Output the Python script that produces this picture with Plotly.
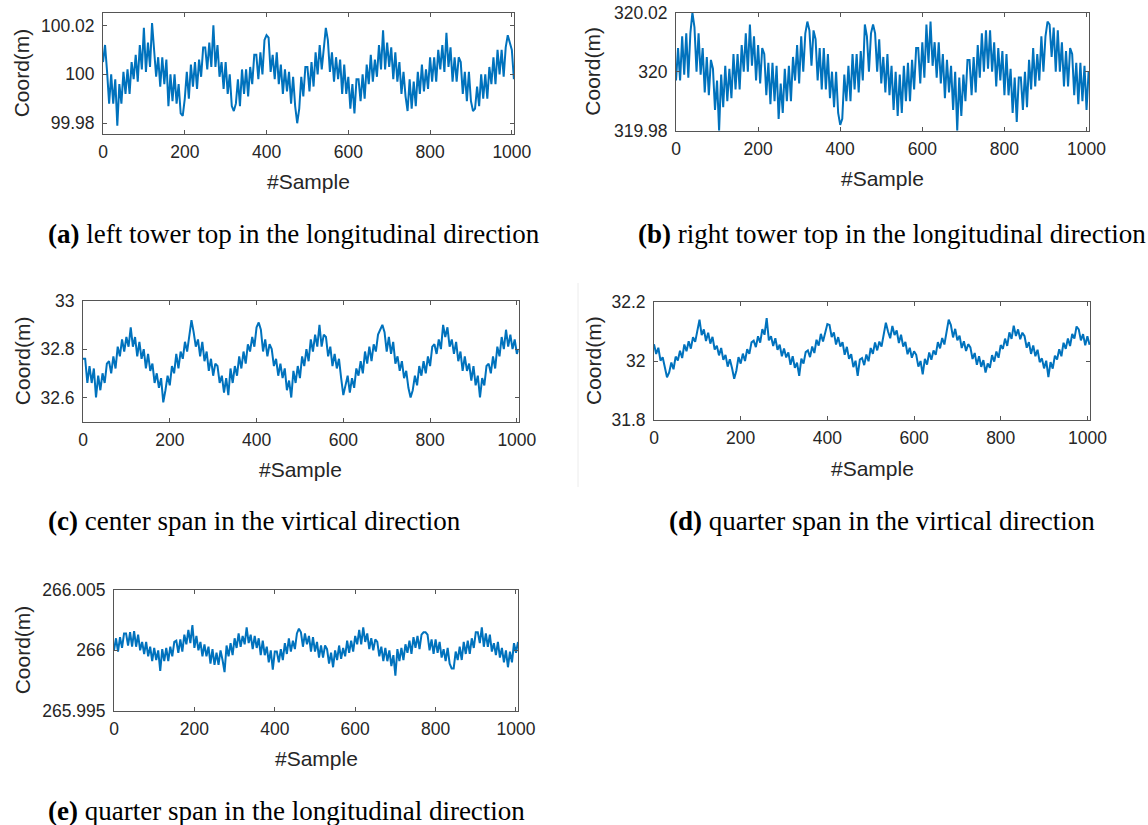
import plotly.graph_objects as go

# ---------------- data (every 5th sample) ----------------
sample_step = 5

coord_a = [
 100.005, 100.012, 100.001, 99.988, 100.000, 99.988, 99.998, 99.979, 99.996, 99.988,
 100.001, 99.992, 100.002, 99.992, 100.005, 99.998, 100.008, 99.997, 100.012, 100.002,
 100.019, 100.001, 100.013, 100.003, 100.021, 100.011, 99.999, 100.007, 99.995, 100.007,
 99.996, 100.006, 99.987, 100.000, 99.989, 100.000, 99.988, 99.996, 99.984, 99.983,
 99.990, 100.001, 99.990, 100.004, 99.995, 100.005, 99.994, 100.006, 99.999, 100.011,
 100.011, 100.002, 100.013, 100.003, 100.020, 100.003, 100.012, 99.999, 100.005, 99.994,
 100.005, 99.992, 100.000, 99.987, 99.985, 99.988, 99.998, 99.987, 100.002, 99.992,
 100.002, 99.991, 100.003, 99.996, 100.008, 100.008, 99.998, 100.009, 100.000, 100.014,
 100.016, 100.015, 100.001, 100.008, 99.998, 100.009, 99.996, 100.004, 99.992, 100.002,
 99.993, 100.001, 99.988, 99.999, 99.987, 99.980, 99.986, 99.999, 99.991, 100.003,
 100.003, 99.993, 100.005, 99.995, 100.009, 100.000, 100.012, 100.002, 100.011, 100.019,
 100.014, 100.001, 100.009, 99.997, 100.007, 99.998, 100.006, 99.992, 100.004, 99.992,
 99.999, 99.986, 99.996, 99.984, 99.998, 99.998, 99.989, 100.000, 99.990, 100.004,
 99.996, 100.008, 99.997, 100.006, 99.999, 100.012, 100.002, 100.018, 100.002, 100.013,
 100.003, 100.011, 99.998, 100.009, 99.997, 100.005, 99.992, 100.001, 99.991, 99.985,
 99.998, 99.986, 99.997, 99.987, 100.001, 99.992, 100.004, 99.993, 100.002, 99.994,
 100.007, 99.997, 100.007, 99.997, 100.010, 100.002, 100.012, 100.001, 100.017, 100.003,
 100.011, 99.997, 100.007, 99.997, 100.007, 100.005, 99.992, 100.001, 99.989, 100.001,
 99.989, 99.985, 99.986, 99.995, 99.987, 100.000, 99.990, 100.000, 99.990, 100.003,
 99.996, 100.007, 99.996, 100.010, 100.000, 100.010, 99.999, 100.011, 100.016, 100.013,
 100.010, 99.998,
]

coord_b = [
 319.997, 320.008, 319.997, 320.012, 319.999, 320.013, 319.998, 320.013, 320.020, 320.015,
 320.000, 320.013, 319.999, 320.008, 319.993, 320.005, 319.992, 320.004, 320.001, 319.987,
 319.997, 319.980, 319.999, 319.988, 320.002, 319.990, 320.001, 319.991, 320.006, 319.994,
 320.006, 319.994, 320.009, 320.000, 320.013, 320.000, 320.016, 320.002, 320.012, 319.997,
 320.009, 319.996, 320.008, 320.006, 319.992, 320.003, 319.989, 320.003, 319.990, 320.002,
 319.984, 319.996, 319.986, 320.001, 319.990, 320.002, 319.990, 320.005, 319.997, 320.009,
 319.996, 320.012, 320.000, 320.013, 320.017, 320.014, 320.002, 320.014, 320.011, 319.997,
 320.008, 319.994, 320.008, 319.994, 320.006, 319.991, 320.000, 319.988, 320.000, 319.986,
 319.982, 319.984, 319.999, 319.990, 320.002, 319.990, 320.006, 319.994, 320.006, 319.993,
 320.007, 319.997, 320.016, 320.012, 320.000, 320.013, 320.016, 320.013, 320.000, 320.011,
 319.996, 320.005, 319.993, 320.006, 319.992, 320.002, 319.987, 320.000, 319.985, 319.999,
 319.986, 320.002, 319.990, 320.003, 319.990, 320.004, 319.994, 320.008, 320.008, 319.996,
 320.010, 319.998, 320.016, 320.003, 320.017, 320.002, 320.010, 319.998, 320.010, 319.996,
 320.006, 319.991, 320.004, 319.993, 320.002, 319.987, 320.000, 319.980, 319.998, 319.985,
 319.999, 319.990, 320.004, 320.004, 319.992, 320.005, 319.993, 320.009, 319.998, 320.013,
 320.000, 320.014, 320.001, 320.014, 320.000, 320.010, 319.995, 320.008, 319.997, 320.007,
 319.992, 320.006, 319.992, 320.001, 319.986, 319.998, 319.983, 319.998, 319.998, 319.987,
 320.000, 319.988, 320.004, 319.994, 320.008, 319.995, 320.006, 319.997, 320.012, 320.000,
 320.012, 320.017, 320.016, 320.005, 320.015, 320.000, 320.014, 320.000, 320.010, 319.995,
 320.007, 319.995, 320.008, 320.006, 319.992, 320.003, 319.989, 320.003, 319.990, 320.002,
 319.987, 320.000,
]

coord_c = [
 32.76, 32.76, 32.66, 32.73, 32.66, 32.72, 32.60, 32.69, 32.63, 32.70,
 32.66, 32.74, 32.75, 32.70, 32.77, 32.72, 32.81, 32.77, 32.84, 32.79,
 32.85, 32.81, 32.89, 32.81, 32.85, 32.77, 32.83, 32.76, 32.80, 32.72,
 32.78, 32.71, 32.74, 32.66, 32.70, 32.64, 32.68, 32.58, 32.63, 32.69,
 32.65, 32.73, 32.70, 32.78, 32.72, 32.79, 32.76, 32.83, 32.79, 32.85,
 32.92, 32.87, 32.81, 32.84, 32.77, 32.83, 32.75, 32.79, 32.71, 32.76,
 32.69, 32.74, 32.73, 32.66, 32.69, 32.62, 32.68, 32.61, 32.72, 32.66,
 32.73, 32.69, 32.77, 32.72, 32.79, 32.74, 32.82, 32.79, 32.85, 32.81,
 32.89, 32.91, 32.88, 32.79, 32.84, 32.77, 32.82, 32.80, 32.73, 32.76,
 32.69, 32.74, 32.68, 32.72, 32.63, 32.67, 32.60, 32.71, 32.66, 32.73,
 32.68, 32.77, 32.73, 32.80, 32.75, 32.84, 32.79, 32.86, 32.81, 32.90,
 32.81, 32.86, 32.85, 32.77, 32.81, 32.73, 32.78, 32.72, 32.76, 32.68,
 32.61, 32.65, 32.69, 32.62, 32.68, 32.64, 32.72, 32.69, 32.75, 32.70,
 32.79, 32.74, 32.81, 32.75, 32.82, 32.79, 32.86, 32.88, 32.90, 32.87,
 32.79, 32.85, 32.78, 32.83, 32.74, 32.77, 32.71, 32.75, 32.68, 32.71,
 32.64, 32.60, 32.63, 32.69, 32.65, 32.73, 32.69, 32.75, 32.70, 32.77,
 32.73, 32.81, 32.82, 32.78, 32.84, 32.80, 32.90, 32.85, 32.89, 32.81,
 32.84, 32.78, 32.83, 32.75, 32.79, 32.71, 32.77, 32.71, 32.74, 32.67,
 32.73, 32.65, 32.69, 32.60, 32.68, 32.65, 32.73, 32.74, 32.70, 32.77,
 32.72, 32.81, 32.77, 32.85, 32.80, 32.88, 32.81, 32.86, 32.80, 32.84,
 32.78, 32.80,
]

coord_d = [
 32.057, 32.024, 32.045, 32.001, 32.013, 31.978, 31.945, 31.961, 31.995, 31.972,
 32.015, 32.002, 32.035, 32.010, 32.056, 32.033, 32.067, 32.042, 32.081, 32.065,
 32.105, 32.140, 32.088, 32.107, 32.068, 32.096, 32.059, 32.082, 32.039, 32.052,
 32.019, 32.044, 32.004, 32.021, 31.981, 32.006, 31.976, 31.940, 31.967, 32.013,
 31.991, 32.025, 32.000, 32.040, 32.024, 32.063, 32.069, 32.047, 32.084, 32.062,
 32.108, 32.089, 32.145, 32.070, 32.084, 32.051, 32.077, 32.038, 32.055, 32.016,
 32.042, 32.012, 32.029, 31.987, 32.016, 31.977, 31.994, 31.950, 32.008, 31.991,
 32.030, 32.036, 32.013, 32.049, 32.027, 32.072, 32.052, 32.092, 32.066, 32.096,
 32.125, 32.122, 32.081, 32.097, 32.056, 32.081, 32.049, 32.064, 32.021, 32.048,
 32.007, 32.023, 31.979, 32.001, 31.950, 32.005, 32.010, 31.986, 32.022, 31.999,
 32.044, 32.024, 32.063, 32.036, 32.066, 32.049, 32.091, 32.130, 32.100, 32.077,
 32.119, 32.088, 32.104, 32.061, 32.089, 32.049, 32.065, 32.023, 32.045, 32.011,
 32.033, 32.021, 31.981, 32.000, 31.955, 32.007, 31.988, 32.029, 32.004, 32.036,
 32.021, 32.064, 32.043, 32.078, 32.056, 32.100, 32.140, 32.122, 32.080, 32.109,
 32.070, 32.086, 32.044, 32.067, 32.034, 32.057, 32.046, 32.007, 32.027, 31.987,
 32.016, 31.980, 32.003, 31.961, 31.992, 31.977, 32.020, 31.998, 32.032, 32.011,
 32.054, 32.041, 32.076, 32.051, 32.097, 32.075, 32.120, 32.085, 32.107, 32.074,
 32.096, 32.084, 32.045, 32.064, 32.024, 32.053, 32.016, 32.038, 31.996, 32.009,
 31.975, 32.001, 31.945, 31.996, 31.974, 32.018, 32.005, 32.040, 32.016, 32.062,
 32.041, 32.076, 32.051, 32.092, 32.076, 32.117, 32.107, 32.070, 32.091, 32.053,
 32.084, 32.055,
]

coord_e = [
 266.0000, 266.0010, 265.9999, 266.0011, 266.0002, 266.0014, 266.0014, 266.0004, 266.0015, 266.0003,
 266.0016, 266.0003, 266.0013, 266.0000, 266.0007, 265.9997, 266.0007, 265.9995, 266.0003, 265.9991,
 266.0002, 265.9992, 266.0000, 265.9983, 266.0001, 265.9991, 266.0002, 265.9991, 266.0003, 265.9995,
 266.0007, 266.0008, 265.9998, 266.0009, 265.9999, 266.0013, 266.0005, 266.0017, 266.0006, 266.0021,
 266.0002, 266.0012, 266.0000, 266.0007, 265.9995, 266.0005, 265.9995, 266.0003, 265.9989, 266.0001,
 265.9988, 265.9998, 265.9988, 266.0000, 265.9992, 265.9982, 266.0004, 265.9995, 266.0006, 265.9996,
 266.0010, 266.0002, 266.0014, 266.0003, 266.0012, 266.0005, 266.0019, 266.0006, 266.0013, 266.0001,
 266.0012, 266.0002, 266.0010, 265.9996, 266.0008, 265.9996, 266.0003, 265.9990, 266.0000, 265.9984,
 265.9999, 265.9999, 265.9990, 266.0001, 265.9992, 266.0006, 265.9997, 266.0010, 265.9999, 266.0008,
 266.0001, 266.0014, 266.0018, 266.0015, 266.0003, 266.0014, 266.0005, 266.0012, 265.9999, 266.0011,
 265.9999, 266.0007, 265.9994, 266.0004, 265.9994, 266.0004, 266.0001, 265.9989, 265.9998, 265.9986,
 266.0000, 265.9992, 266.0004, 265.9993, 266.0002, 265.9995, 266.0008, 265.9998, 266.0008, 265.9999,
 266.0012, 266.0005, 266.0017, 266.0005, 266.0019, 266.0007, 266.0014, 266.0001, 266.0010, 266.0000,
 266.0009, 266.0007, 265.9995, 266.0003, 265.9991, 266.0002, 265.9991, 266.0000, 265.9987, 265.9996,
 265.9979, 266.0001, 265.9991, 266.0002, 265.9992, 266.0005, 265.9998, 266.0008, 265.9997, 266.0011,
 266.0002, 266.0012, 266.0001, 266.0013, 266.0015, 266.0015, 266.0013, 266.0000, 266.0009, 265.9997,
 266.0009, 265.9998, 266.0007, 265.9994, 266.0001, 265.9991, 266.0002, 265.9989, 265.9985, 265.9985,
 265.9999, 265.9992, 266.0003, 265.9992, 266.0007, 265.9997, 266.0008, 265.9997, 266.0010, 266.0002,
 266.0015, 266.0015, 266.0006, 266.0019, 266.0003, 266.0014, 266.0003, 266.0013, 265.9999, 266.0006,
 265.9996, 266.0007, 265.9994, 266.0002, 265.9990, 266.0000, 265.9986, 265.9999, 265.9990, 266.0006,
 265.9998, 266.0007,
]

x_ticks = [0, 200, 400, 600, 800, 1000]
y_ticks_a = [99.98, 100, 100.02]
y_ticks_b = [319.98, 320, 320.02]
y_ticks_c = [32.6, 32.8, 33]
y_ticks_d = [31.8, 32, 32.2]
y_ticks_e = [265.995, 266, 266.005]
y_tick_text_a = ["99.98", "100", "100.02"]
y_tick_text_b = ["319.98", "320", "320.02"]
y_tick_text_c = ["32.6", "32.8", "33"]
y_tick_text_d = ["31.8", "32", "32.2"]
y_tick_text_e = ["265.995", "266", "266.005"]

captions = [
    ("(a)", "left tower top in the longitudinal direction"),
    ("(b)", "right tower top in the longitudinal direction"),
    ("(c)", "center span in the virtical direction"),
    ("(d)", "quarter span in the virtical direction"),
    ("(e)", "quarter span in the longitudinal direction"),
]

# ---------------- layout geometry (pixels) ----------------
W, H = 1148, 825
LINE_BLUE = "#0072BD"
AX_COL = "#555555"
TXT_COL = "#262626"
SANS = "Liberation Sans, Arial, sans-serif"
SERIF = "Liberation Serif, Times New Roman, serif"


def fx(p):
    return p / W


def fy(p):
    return 1 - p / H


panels = [
    dict(vals=coord_a, box=(103, 514.3, 12.7, 134.0), yr=(99.9756, 100.0252), xmax=1006,
         yt=y_ticks_a, ytt=y_tick_text_a, ylab_x=21, cap=(46, 234)),
    dict(vals=coord_b, box=(676, 1089, 12.7, 130.7), yr=(319.98, 320.02), xmax=1006,
         yt=y_ticks_b, ytt=y_tick_text_b, ylab_x=593, cap=(636, 234)),
    dict(vals=coord_c, box=(83, 518.6, 300.7, 421.7), yr=(32.5, 33.0), xmax=1004,
         yt=y_ticks_c, ytt=y_tick_text_c, ylab_x=22, cap=(46, 521)),
    dict(vals=coord_d, box=(654, 1090, 302, 420), yr=(31.8, 32.2), xmax=1006,
         yt=y_ticks_d, ytt=y_tick_text_d, ylab_x=594, cap=(667, 521)),
    dict(vals=coord_e, box=(114, 518, 590, 710.7), yr=(265.995, 266.005), xmax=1005,
         yt=y_ticks_e, ytt=y_tick_text_e, ylab_x=22, cap=(46, 811)),
]

fig = go.Figure()
layout = dict(
    width=W, height=H,
    margin=dict(l=0, r=0, t=0, b=0, pad=0, autoexpand=False),
    paper_bgcolor="white", plot_bgcolor="white",
    showlegend=False,
)
annotations = []

for i, p in enumerate(panels):
    n = i + 1
    xa = "x" if n == 1 else f"x{n}"
    ya = "y" if n == 1 else f"y{n}"
    left, right, top, bottom = p["box"]
    xs = [k * sample_step for k in range(len(p["vals"]))]
    fig.add_trace(go.Scatter(
        x=xs, y=p["vals"], mode="lines",
        line=dict(color=LINE_BLUE, width=2.0),
        xaxis=xa, yaxis=ya, hoverinfo="skip",
    ))
    common = dict(
        showline=True, linecolor=AX_COL, linewidth=1, mirror="ticks",
        ticks="inside", ticklen=4, tickwidth=1, tickcolor=AX_COL,
        showgrid=False, zeroline=False, automargin=False,
        tickfont=dict(family=SANS, size=17.5, color=TXT_COL),
    )
    layout["xaxis" if n == 1 else f"xaxis{n}"] = dict(
        domain=[fx(left), fx(right)], anchor=ya, range=[0, p["xmax"]],
        tickvals=x_ticks, ticktext=[str(v) for v in x_ticks],
        ticklabelstandoff=2, **common,
    )
    layout["yaxis" if n == 1 else f"yaxis{n}"] = dict(
        domain=[fy(bottom), fy(top)], anchor=xa, range=list(p["yr"]),
        tickvals=p["yt"], ticktext=p["ytt"], ticklabelstandoff=4, **common,
    )
    annotations.append(dict(
        x=fx(p["ylab_x"]), y=fy((top + bottom) / 2), xref="paper", yref="paper",
        text="Coord(m)", showarrow=False, textangle=-90,
        xanchor="center", yanchor="middle",
        font=dict(family=SANS, size=21, color=TXT_COL),
    ))
    annotations.append(dict(
        x=fx((left + right) / 2), y=fy(bottom + 48), xref="paper", yref="paper",
        text="#Sample", showarrow=False, xanchor="center", yanchor="middle",
        font=dict(family=SANS, size=21, color=TXT_COL),
    ))
    tag, txt = captions[i]
    annotations.append(dict(
        x=fx(p["cap"][0]), y=fy(p["cap"][1]), xref="paper", yref="paper",
        text=f"<b>{tag}</b> {txt}", showarrow=False,
        xanchor="left", yanchor="middle",
        font=dict(family=SERIF, size=27, color="black"),
    ))

layout["annotations"] = annotations
layout["shapes"] = [dict(
    type="line", xref="paper", yref="paper",
    x0=fx(578), x1=fx(578), y0=fy(283), y1=fy(487),
    line=dict(color="#ececec", width=1),
)]
fig.update_layout(**layout)
fig.write_html("out.html")
